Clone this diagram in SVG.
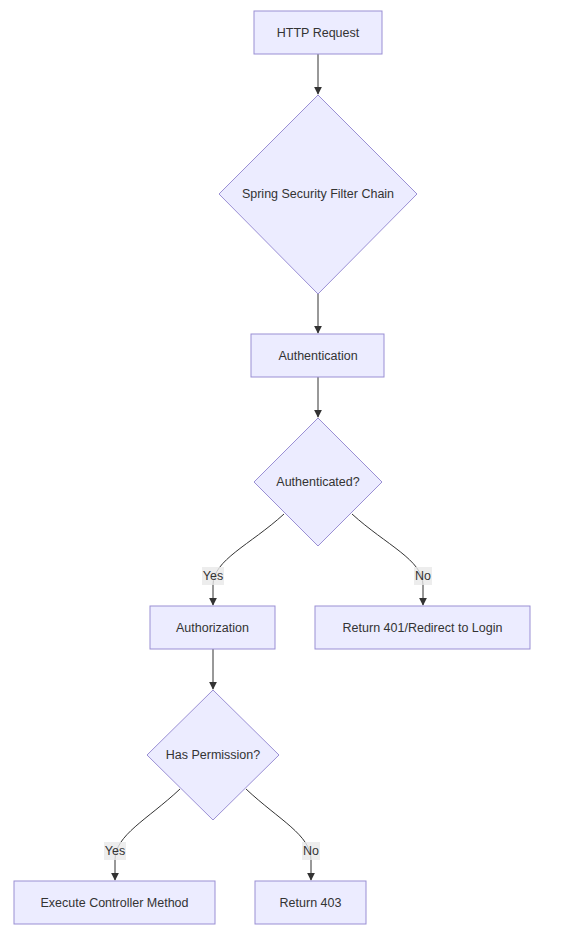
<svg xmlns="http://www.w3.org/2000/svg" width="567" height="929" viewBox="0 0 567 929">
<style>
.n{fill:#ECECFF;stroke:#9a8fd4;stroke-width:1}
.t{font-family:"Liberation Sans",Arial,sans-serif;font-size:12.5px;fill:#333;text-anchor:middle;dominant-baseline:central}
.e{fill:none;stroke:#333;stroke-width:1}
.lb{fill:#e8e8e8;opacity:0.8}
</style>
<defs>
<marker id="a" viewBox="0 0 10 10" refX="9" refY="5" markerWidth="8" markerHeight="8" orient="auto" markerUnits="userSpaceOnUse">
<path d="M0,0 L10,5 L0,10 z" fill="#333"/>
</marker>
</defs>
<rect width="567" height="929" fill="#fff"/>
<g id="edges">
<path class="e" d="M318,54 L318,94" marker-end="url(#a)"/>
<path class="e" d="M318,294 L318,333" marker-end="url(#a)"/>
<path class="e" d="M318,377 L318,417" marker-end="url(#a)"/>
<path class="e" d="M284,514 C250,545 213,560 213,585 L213,605" marker-end="url(#a)"/>
<path class="e" d="M352,514 C386,545 423,560 423,585 L423,605" marker-end="url(#a)"/>
<path class="e" d="M213,649 L213,689" marker-end="url(#a)"/>
<path class="e" d="M180,789 C147,820 115,835 115,860 L115,880" marker-end="url(#a)"/>
<path class="e" d="M246,789 C279,820 311,835 311,860 L311,880" marker-end="url(#a)"/>
<g id="l1"><rect class="lb" x="202" y="567" width="22" height="18"/><text class="t" x="213" y="576">Yes</text></g>
<g id="l2"><rect class="lb" x="414" y="567" width="18" height="18"/><text class="t" x="423" y="576">No</text></g>
<g id="l3"><rect class="lb" x="104" y="842" width="22" height="18"/><text class="t" x="115" y="851">Yes</text></g>
<g id="l4"><rect class="lb" x="302" y="842" width="18" height="18"/><text class="t" x="311" y="851">No</text></g>
</g>
<g id="A"><rect class="n" x="254" y="11" width="128" height="43"/><text class="t" x="318" y="32.5">HTTP Request</text></g>
<g id="B"><polygon class="n" points="318,95 417,194 318,294 219,194"/><text class="t" x="318" y="194">Spring Security Filter Chain</text></g>
<g id="C"><rect class="n" x="251" y="334" width="133" height="43"/><text class="t" x="318" y="355.5">Authentication</text></g>
<g id="D"><polygon class="n" points="318,418 382,482 318,546 254,482"/><text class="t" x="318" y="482">Authenticated?</text></g>
<g id="E"><rect class="n" x="150" y="606" width="125" height="43"/><text class="t" x="212.5" y="627.5">Authorization</text></g>
<g id="F"><rect class="n" x="315" y="606" width="215" height="43"/><text class="t" x="422.5" y="627.5">Return 401/Redirect to Login</text></g>
<g id="G"><polygon class="n" points="213,690 279,755 213,820 147,755"/><text class="t" x="213" y="755">Has Permission?</text></g>
<g id="H"><rect class="n" x="14" y="881" width="201" height="43"/><text class="t" x="114.5" y="902.5">Execute Controller Method</text></g>
<g id="I"><rect class="n" x="255" y="881" width="111" height="43"/><text class="t" x="310.5" y="902.5">Return 403</text></g>
</svg>
